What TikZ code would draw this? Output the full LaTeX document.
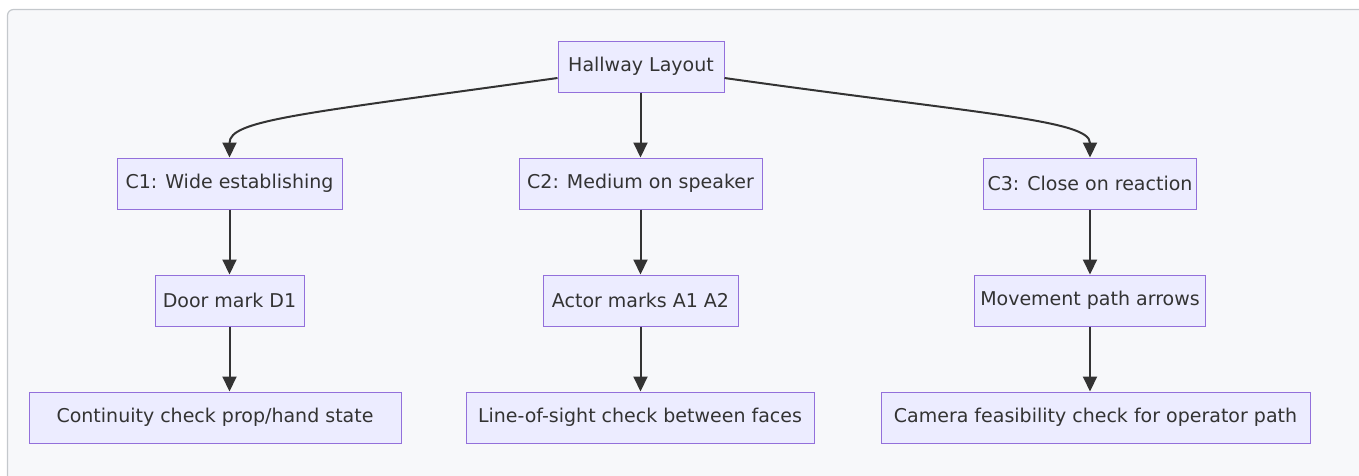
\documentclass[tikz,border=0pt]{standalone}
\usepackage{fontspec}
\setmainfont{DejaVu Sans}
\usetikzlibrary{arrows.meta}
\definecolor{nodefill}{HTML}{ECECFF}
\definecolor{nodeborder}{HTML}{9370DB}
\definecolor{txt}{HTML}{333333}
\definecolor{bgfill}{HTML}{F7F8FA}
\definecolor{bgborder}{HTML}{C4C8CC}
\tikzset{
  box/.style={draw=nodeborder, fill=nodefill, line width=1pt, text=txt,
    minimum height=51pt, inner xsep=4pt, font=\fontsize{19}{22}\selectfont, anchor=center},
  conn/.style={draw=txt, line width=2pt, -{Triangle[length=15pt,width=14pt]}},
}
\begin{document}
\begin{tikzpicture}[x=1pt,y=-1pt]
\useasboundingbox (0,0) rectangle (1359,475);
\begin{scope}
\clip (0,0) rectangle (1359,475);
\draw[bgborder, fill=bgfill, line width=1.2pt, rounded corners=6pt] (7.5,9.5) rectangle (1380,495);
\end{scope}
\node[box, minimum width=166pt] (hl) at (641,66.5) {Hallway Layout};
\node[box, minimum width=225pt] (c1) at (229.5,183.5) {C1: Wide establishing};
\node[box, minimum width=243pt] (c2) at (640.5,183.5) {C2: Medium on speaker};
\node[box, minimum width=212pt] (c3) at (1090,183.5) {C3: Close on reaction};
\node[box, minimum width=149pt] (d1) at (229.5,300.5) {Door mark D1};
\node[box, minimum width=195pt] (a1) at (640.5,300.5) {Actor marks A1 A2};
\node[box, minimum width=231pt] (mp) at (1090,300.5) {Movement path arrows};
\node[box, minimum width=372pt] (cc) at (215,417.5) {Continuity check prop/hand state};
\node[box, minimum width=348pt] (ls) at (640,417.5) {Line-of-sight check between faces};
\node[box, minimum width=429pt] (cf) at (1095.5,417.5) {Camera feasibility check for operator path};
\draw[conn] (hl.west |- 0,78) .. controls (300,114) and (229.5,120) .. (c1.north);
\draw[conn] (hl.east |- 0,78) .. controls (980,114) and (1090,120) .. (c3.north);
\draw[conn] (hl.south -| c2.north) -- (c2.north);
\draw[conn] (c1) -- (d1);
\draw[conn] (c2) -- (a1);
\draw[conn] (c3) -- (mp);
\draw[conn] (d1.south) -- (d1.south |- cc.north);
\draw[conn] (a1.south) -- (a1.south |- ls.north);
\draw[conn] (mp.south) -- (mp.south |- cf.north);
\end{tikzpicture}
\end{document}
